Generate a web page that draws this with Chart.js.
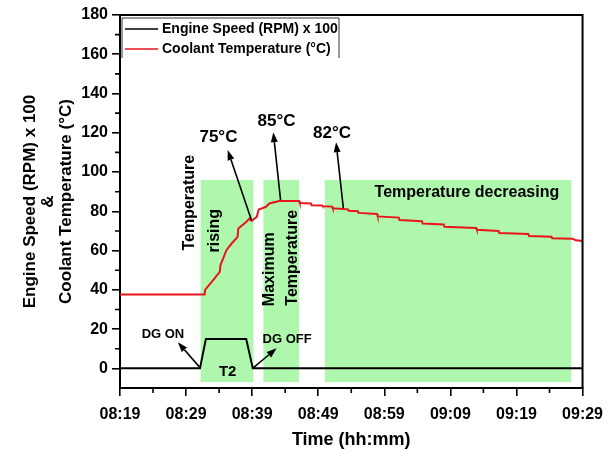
<!DOCTYPE html>
<html>
<head>
<meta charset="utf-8">
<script src="https://cdn.jsdelivr.net/npm/chart.js@4.4.1/dist/chart.umd.min.js"></script>
<style>
  html, body { margin: 0; padding: 0; background: #fff; }
</style>
</head>
<body>
<canvas id="dgChart" width="612" height="449"></canvas>
<script>
// tick labels for the time axis (minutes after 08:19)
const timeLabels = ['08:19', '08:29', '08:39', '08:49', '08:59', '09:09', '09:19', '09:29'];

// engine speed (RPM / 100)
const engineTimes = [0, 12.1, 13, 19.1, 20.1, 70];
const engineSpeed = [0, 0, 15, 15, 0, 0];

// coolant temperature (degC)
const coolantTimes = [0, 12.8, 12.9, 14.1, 15.1, 15.2, 16.1, 16.9, 17.8, 17.9, 19.1, 19.6, 19.9, 20.7, 21, 22.1, 22.6, 24.1,
  27.1, 27.2, 28.9, 29, 30.6, 30.7, 32.1, 32.2, 34.5, 34.6, 36, 36.1, 38.9, 39, 42.2, 42.3, 45.7, 45.8,
  49, 49.1, 53.9, 54, 57.3, 57.4, 61.8, 61.9, 65.3, 65.4, 68.5, 69, 70];
const coolantTemp = [37.6, 37.6, 40.1, 44.9, 49.1, 52.5, 60.2, 63.6, 67, 71.2, 74.6, 76.3, 75.1, 77.2, 80.9, 82.3, 84, 85.3,
  85.3, 84.2, 84, 83.1, 83, 82.6, 82.4, 81.5, 81, 80.3, 80, 79.2, 78.6, 77.4, 76.8, 75.6, 75, 73.8,
  73.3, 72.1, 71.5, 70.6, 70, 69, 68.5, 67.4, 67, 66.3, 66, 65.2, 64.9];

// shaded phases (time ranges) and their vertical extent
const shadedRanges = [[12.2, 20.2], [21.7, 27.1], [31, 68.3]];
const shadeBottom = -7;
const shadeTop = 96;

const FONT = "'Liberation Sans', Arial, sans-serif";

function toPoints(xs, ys) {
  return xs.map((x, i) => ({ x: x, y: ys[i] }));
}

// notes on the plot, in data units
const notes = [
  { text: '75°C', x: 14.9, y: 117.8, size: 17 },
  { text: '85°C', x: 23.7, y: 126, size: 17 },
  { text: '82°C', x: 32.1, y: 119.8, size: 17 },
  { text: 'DG ON', x: 6.5, y: 17.5, size: 13 },
  { text: 'DG OFF', x: 25.3, y: 14.8, size: 13 },
  { text: 'T2', x: 16.3, y: -2, size: 15 },
  { text: 'Temperature decreasing', x: 52.5, y: 89.7, size: 16 },
  { text: 'Temperature', x: 10.56, y: 84.4, size: 16, rotate: true },
  { text: 'rising', x: 14.3, y: 70.1, size: 16, rotate: true },
  { text: 'Maximum', x: 22.6, y: 50.5, size: 16, rotate: true },
  { text: 'Temperature', x: 26.1, y: 56.3, size: 16, rotate: true }
];
const arrows = [
  { from: [19.9, 75.5], to: [16.3, 111.2] },
  { from: [24.3, 85.7], to: [23.2, 120.3] },
  { from: [33.8, 81.6], to: [32.7, 115.2] },
  { from: [12.07, 0.5], to: [8.75, 13.3] },
  { from: [20.06, 0], to: [23.7, 10.2] }
];

const shadePlugin = {
  id: 'shade',
  beforeDatasetsDraw(chart) {
    const { ctx, scales: { x, y } } = chart;
    ctx.save();
    ctx.fillStyle = '#b0f7ae';
    shadedRanges.forEach(r => {
      const x0 = x.getPixelForValue(r[0]), x1 = x.getPixelForValue(r[1]);
      const y0 = y.getPixelForValue(shadeTop), y1 = y.getPixelForValue(shadeBottom);
      ctx.fillRect(x0, y0, x1 - x0, y1 - y0);
    });
    ctx.restore();
  }
};

const notesPlugin = {
  id: 'notes',
  afterDatasetsDraw(chart) {
    const { ctx, scales: { x, y } } = chart;
    ctx.save();
    ctx.fillStyle = '#000';
    ctx.strokeStyle = '#000';
    ctx.textAlign = 'center';
    ctx.textBaseline = 'middle';
    notes.forEach(n => {
      ctx.font = 'bold ' + n.size + 'px ' + FONT;
      const px = x.getPixelForValue(n.x), py = y.getPixelForValue(n.y);
      if (n.rotate) {
        ctx.save();
        ctx.translate(px, py);
        ctx.rotate(-Math.PI / 2);
        ctx.fillText(n.text, 0, 0);
        ctx.restore();
      } else {
        ctx.fillText(n.text, px, py);
      }
    });
    ctx.lineWidth = 1.6;
    arrows.forEach(a => {
      const x0 = x.getPixelForValue(a.from[0]), y0 = y.getPixelForValue(a.from[1]);
      const x1 = x.getPixelForValue(a.to[0]), y1 = y.getPixelForValue(a.to[1]);
      const ang = Math.atan2(y1 - y0, x1 - x0);
      const len = 10, w = 3.5;
      const bx = x1 - len * Math.cos(ang), by = y1 - len * Math.sin(ang);
      ctx.beginPath();
      ctx.moveTo(x0, y0);
      ctx.lineTo(bx, by);
      ctx.stroke();
      ctx.beginPath();
      ctx.moveTo(x1, y1);
      ctx.lineTo(bx + w * Math.sin(ang), by - w * Math.cos(ang));
      ctx.lineTo(bx - w * Math.sin(ang), by + w * Math.cos(ang));
      ctx.closePath();
      ctx.fill();
    });
    ctx.restore();
  }
};

const framePlugin = {
  id: 'frame',
  afterDraw(chart) {
    const { ctx, chartArea: ca, scales: { x, y } } = chart;
    ctx.save();
    ctx.strokeStyle = '#000';
    // top and right edges of the box
    ctx.lineWidth = 2;
    ctx.beginPath();
    ctx.moveTo(ca.left, ca.top);
    ctx.lineTo(ca.right, ca.top);
    ctx.lineTo(ca.right, ca.bottom);
    ctx.stroke();
    // minor ticks
    ctx.lineWidth = 1.6;
    ctx.beginPath();
    for (let v = 5; v < 70; v += 10) {
      const px = x.getPixelForValue(v);
      ctx.moveTo(px, ca.bottom);
      ctx.lineTo(px, ca.bottom + 5);
    }
    for (let v = 10; v < 180; v += 20) {
      const py = y.getPixelForValue(v);
      ctx.moveTo(ca.left - 5, py);
      ctx.lineTo(ca.left, py);
    }
    ctx.stroke();

    // legend
    const lx = ca.left + 2, lt = ca.top + 3, lr = 339, lb = 58;
    ctx.lineWidth = 1;
    ctx.strokeStyle = '#333';
    ctx.beginPath();
    ctx.moveTo(lx, lb);
    ctx.lineTo(lx, lt);
    ctx.lineTo(lr, lt);
    ctx.lineTo(lr, lb);
    ctx.stroke();
    ctx.font = 'bold 14px ' + FONT;
    ctx.textAlign = 'left';
    ctx.textBaseline = 'middle';
    ctx.fillStyle = '#000';
    chart.data.datasets.forEach((ds, i) => {
      const ry = 29 + i * 20;
      ctx.strokeStyle = ds.borderColor;
      ctx.lineWidth = 1.5;
      ctx.beginPath();
      ctx.moveTo(lx + 3, ry);
      ctx.lineTo(lx + 36, ry);
      ctx.stroke();
      ctx.fillText(ds.label, lx + 40, ry);
    });
    ctx.restore();
  }
};

const ctx = document.getElementById('dgChart').getContext('2d');

const dgChart = new Chart(ctx, {
  type: 'line',
  data: {
    datasets: [
      {
        label: 'Engine Speed (RPM) x 100',
        data: toPoints(engineTimes, engineSpeed),
        borderColor: '#000000',
        borderWidth: 2,
        pointRadius: 0,
        tension: 0
      },
      {
        label: 'Coolant Temperature (°C)',
        data: toPoints(coolantTimes, coolantTemp),
        borderColor: '#e8141b',
        borderWidth: 2,
        pointRadius: 0,
        tension: 0
      }
    ]
  },
  options: {
    responsive: false,
    animation: false,
    layout: { padding: { top: 15, right: 28, left: 0, bottom: 0 } },
    plugins: {
      legend: { display: false },
      tooltip: { enabled: false }
    },
    scales: {
      x: {
        type: 'linear',
        min: 0,
        max: 70,
        ticks: {
          stepSize: 10,
          padding: 9,
          maxRotation: 0,
          autoSkip: false,
          color: '#000',
          font: { family: FONT, size: 16, weight: 'bold' },
          callback: function(value) {
            return timeLabels[Math.round(value / 10)];
          }
        },
        grid: { drawOnChartArea: false, drawTicks: true, tickLength: 8, color: '#000', lineWidth: 1.6 },
        border: { display: true, color: '#000', width: 2 },
        title: {
          display: true,
          text: 'Time (hh:mm)',
          color: '#000',
          padding: { top: 0, bottom: 0 },
          font: { family: FONT, size: 18, weight: 'bold', lineHeight: 1 }
        },
        afterFit: function(scale) { scale.height = 61; }
      },
      y: {
        min: -10,
        max: 180,
        ticks: {
          stepSize: 20,
          padding: 4,
          color: '#000',
          font: { family: FONT, size: 16, weight: 'bold' }
        },
        afterBuildTicks: function(scale) {
          scale.ticks = scale.ticks.filter(t => t.value >= 0);
        },
        grid: { drawOnChartArea: false, drawTicks: true, tickLength: 8, color: '#000', lineWidth: 1.6 },
        border: { display: true, color: '#000', width: 2 },
        title: {
          display: true,
          text: ['Engine Speed (RPM) x 100', '&', 'Coolant Temperature (°C)'],
          color: '#000',
          padding: { top: 21, bottom: 0 },
          font: { family: FONT, size: 17, weight: 'bold', lineHeight: 18 / 17 }
        },
        afterFit: function(scale) { scale.width = 120; }
      }
    }
  },
  plugins: [shadePlugin, notesPlugin, framePlugin]
});
</script>
</body>
</html>
